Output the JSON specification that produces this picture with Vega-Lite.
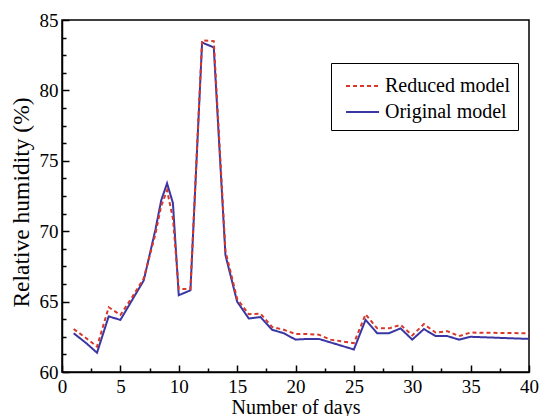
{
  "$schema": "https://vega.github.io/schema/vega-lite/v6.json",
  "width": 467,
  "height": 352,
  "autosize": {"type": "none"},
  "padding": {"left": 62, "top": 20, "right": 11, "bottom": 44},
  "background": "white",
  "config": {
    "view": {"stroke": "black", "strokeWidth": 1.5},
    "font": "Liberation Serif, Times New Roman, DejaVu Serif, serif"
  },
  "data": {
    "values": [
      {"day": 1, "model": "Original model", "rh": 62.75},
      {"day": 2, "model": "Original model", "rh": 62.1},
      {"day": 3, "model": "Original model", "rh": 61.37},
      {"day": 4, "model": "Original model", "rh": 63.95},
      {"day": 5, "model": "Original model", "rh": 63.7},
      {"day": 6, "model": "Original model", "rh": 65.1},
      {"day": 7, "model": "Original model", "rh": 66.5},
      {"day": 8, "model": "Original model", "rh": 70.1},
      {"day": 8.5, "model": "Original model", "rh": 72.2},
      {"day": 9, "model": "Original model", "rh": 73.4},
      {"day": 9.5, "model": "Original model", "rh": 72.0},
      {"day": 10, "model": "Original model", "rh": 65.45},
      {"day": 11, "model": "Original model", "rh": 65.8},
      {"day": 12, "model": "Original model", "rh": 83.4},
      {"day": 13, "model": "Original model", "rh": 83.05},
      {"day": 14, "model": "Original model", "rh": 68.3},
      {"day": 15, "model": "Original model", "rh": 65.0},
      {"day": 16, "model": "Original model", "rh": 63.8},
      {"day": 17, "model": "Original model", "rh": 63.9},
      {"day": 18, "model": "Original model", "rh": 63.0},
      {"day": 19, "model": "Original model", "rh": 62.75},
      {"day": 20, "model": "Original model", "rh": 62.3},
      {"day": 21, "model": "Original model", "rh": 62.35},
      {"day": 22, "model": "Original model", "rh": 62.35},
      {"day": 25, "model": "Original model", "rh": 61.6},
      {"day": 26, "model": "Original model", "rh": 63.7},
      {"day": 27, "model": "Original model", "rh": 62.75},
      {"day": 28, "model": "Original model", "rh": 62.75},
      {"day": 29, "model": "Original model", "rh": 63.1},
      {"day": 30, "model": "Original model", "rh": 62.3},
      {"day": 31, "model": "Original model", "rh": 63.05},
      {"day": 32, "model": "Original model", "rh": 62.55},
      {"day": 33, "model": "Original model", "rh": 62.55},
      {"day": 34, "model": "Original model", "rh": 62.3},
      {"day": 35, "model": "Original model", "rh": 62.5},
      {"day": 40, "model": "Original model", "rh": 62.35},
      {"day": 1, "model": "Reduced model", "rh": 63.05},
      {"day": 2, "model": "Reduced model", "rh": 62.45},
      {"day": 3, "model": "Reduced model", "rh": 61.8},
      {"day": 4, "model": "Reduced model", "rh": 64.6},
      {"day": 5, "model": "Reduced model", "rh": 64.05},
      {"day": 6, "model": "Reduced model", "rh": 65.3},
      {"day": 7, "model": "Reduced model", "rh": 66.65},
      {"day": 8, "model": "Reduced model", "rh": 69.8},
      {"day": 8.5, "model": "Reduced model", "rh": 71.8},
      {"day": 9, "model": "Reduced model", "rh": 72.9},
      {"day": 9.5, "model": "Reduced model", "rh": 70.9},
      {"day": 10, "model": "Reduced model", "rh": 65.9},
      {"day": 11, "model": "Reduced model", "rh": 65.9},
      {"day": 12, "model": "Reduced model", "rh": 83.55},
      {"day": 13, "model": "Reduced model", "rh": 83.5},
      {"day": 14, "model": "Reduced model", "rh": 68.6},
      {"day": 15, "model": "Reduced model", "rh": 65.2},
      {"day": 16, "model": "Reduced model", "rh": 64.1},
      {"day": 17, "model": "Reduced model", "rh": 64.15},
      {"day": 18, "model": "Reduced model", "rh": 63.2},
      {"day": 19, "model": "Reduced model", "rh": 63.0},
      {"day": 20, "model": "Reduced model", "rh": 62.7},
      {"day": 21, "model": "Reduced model", "rh": 62.7},
      {"day": 22, "model": "Reduced model", "rh": 62.65},
      {"day": 23, "model": "Reduced model", "rh": 62.3},
      {"day": 25, "model": "Reduced model", "rh": 62.05},
      {"day": 26, "model": "Reduced model", "rh": 64.1},
      {"day": 27, "model": "Reduced model", "rh": 63.1},
      {"day": 28, "model": "Reduced model", "rh": 63.1},
      {"day": 29, "model": "Reduced model", "rh": 63.35},
      {"day": 30, "model": "Reduced model", "rh": 62.6},
      {"day": 31, "model": "Reduced model", "rh": 63.4},
      {"day": 32, "model": "Reduced model", "rh": 62.8},
      {"day": 33, "model": "Reduced model", "rh": 62.9},
      {"day": 34, "model": "Reduced model", "rh": 62.55},
      {"day": 35, "model": "Reduced model", "rh": 62.8},
      {"day": 40, "model": "Reduced model", "rh": 62.75}
    ]
  },
  "mark": {"type": "line", "strokeWidth": 2},
  "encoding": {
    "x": {
      "field": "day",
      "type": "quantitative",
      "scale": {"domain": [0, 40], "nice": false},
      "axis": {
        "title": "Number of days",
        "values": [0, 2.5, 5, 7.5, 10, 12.5, 15, 17.5, 20, 22.5, 25, 27.5, 30, 32.5, 35, 37.5, 40],
        "labelExpr": "datum.value % 5 === 0 ? datum.label : ''",
        "grid": false,
        "domainColor": "black",
        "domainWidth": 1.5,
        "tickColor": "black",
        "tickWidth": 1.5,
        "tickSize": {"condition": {"test": "datum.value % 5 === 0", "value": -7}, "value": -4},
        "labelFont": "Liberation Serif, Times New Roman, DejaVu Serif, serif",
        "labelFontSize": 19,
        "labelColor": "black",
        "labelPadding": 12,
        "labelFlush": false,
        "labelOverlap": false,
        "titleFont": "Liberation Serif, Times New Roman, DejaVu Serif, serif",
        "titleFontSize": 20,
        "titleFontWeight": "normal",
        "titleColor": "black",
        "titlePadding": -2
      }
    },
    "y": {
      "field": "rh",
      "type": "quantitative",
      "scale": {"domain": [60, 85], "nice": false, "zero": false},
      "axis": {
        "title": "Relative humidity (%)",
        "values": [60, 61.25, 62.5, 63.75, 65, 66.25, 67.5, 68.75, 70, 71.25, 72.5, 73.75, 75, 76.25, 77.5, 78.75, 80, 81.25, 82.5, 83.75, 85],
        "labelExpr": "datum.value % 5 === 0 ? datum.label : ''",
        "grid": false,
        "domainColor": "black",
        "domainWidth": 1.5,
        "tickColor": "black",
        "tickWidth": 1.5,
        "tickSize": {"condition": {"test": "datum.value % 5 === 0", "value": -7}, "value": -4},
        "labelFont": "Liberation Serif, Times New Roman, DejaVu Serif, serif",
        "labelFontSize": 19,
        "labelColor": "black",
        "labelPadding": 11,
        "labelFlush": false,
        "labelOverlap": false,
        "titleFont": "Liberation Serif, Times New Roman, DejaVu Serif, serif",
        "titleFontSize": 23.5,
        "titleFontWeight": "normal",
        "titleColor": "black",
        "titlePadding": 6,
        "titleY": 182
      }
    },
    "color": {
      "field": "model",
      "type": "nominal",
      "scale": {"domain": ["Reduced model", "Original model"], "range": ["#d8382a", "#3a36a3"]},
      "legend": {
        "orient": "none",
        "legendX": 269,
        "legendY": 43,
        "title": null,
        "strokeColor": "black",
        "fillColor": "white",
        "padding": 8,
        "symbolType": "M-0.57,0H1.79",
        "symbolSize": 784,
        "symbolStrokeWidth": 2,
        "labelFont": "Liberation Serif, Times New Roman, DejaVu Serif, serif",
        "labelFontSize": 20,
        "labelColor": "black",
        "labelOffset": 16,
        "rowPadding": 1
      }
    },
    "strokeDash": {
      "field": "model",
      "type": "nominal",
      "scale": {"domain": ["Reduced model", "Original model"], "range": [[4, 3], [1, 0]]},
      "legend": null
    }
  }
}
